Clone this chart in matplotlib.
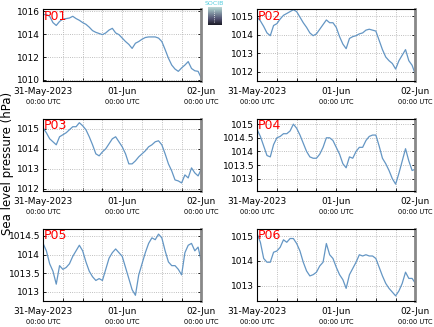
import numpy as np
import matplotlib
matplotlib.use('Agg')
import matplotlib.pyplot as plt

# hourly sea level pressure (hPa), 31-May-2023 00:00 UTC .. 02-Jun-2023 00:00 UTC
hours = np.arange(49)

p01 = [1015.7, 1015.7, 1015.55, 1015.0, 1014.75, 1015.1, 1015.3, 1015.35, 1015.4, 1015.55,
       1015.35, 1015.2, 1015.0, 1014.85, 1014.6, 1014.3, 1014.15, 1014.05, 1013.95, 1014.1,
       1014.35, 1014.5, 1014.1, 1013.95, 1013.65, 1013.35, 1013.1, 1012.75, 1013.2, 1013.35,
       1013.55, 1013.7, 1013.75, 1013.75, 1013.75, 1013.65, 1013.35, 1012.65, 1011.9, 1011.3,
       1010.95, 1010.75, 1011.05, 1011.3, 1011.6, 1011.0, 1010.8, 1010.75, 1010.15]
p02 = [1014.95, 1014.75, 1014.45, 1014.1, 1013.95, 1014.5, 1014.6, 1014.85, 1015.05, 1015.15,
       1015.25, 1015.35, 1015.25, 1014.95, 1014.65, 1014.4, 1014.1, 1013.95, 1014.05, 1014.3,
       1014.55, 1014.8, 1014.65, 1014.65, 1014.4, 1013.9, 1013.5, 1013.25, 1013.8, 1013.9,
       1013.95, 1014.05, 1014.1, 1014.25, 1014.3, 1014.25, 1014.2, 1013.7, 1013.2, 1012.8,
       1012.6, 1012.45, 1012.15, 1012.6, 1012.9, 1013.2, 1012.6, 1012.35, 1011.85]
p03 = [1015.05, 1014.8, 1014.5, 1014.35, 1014.2, 1014.6, 1014.7, 1014.8, 1014.95, 1015.1,
       1015.1, 1015.3, 1015.15, 1014.95, 1014.6, 1014.2, 1013.75, 1013.65, 1013.85, 1014.0,
       1014.25, 1014.5, 1014.6, 1014.35, 1014.1, 1013.75, 1013.25, 1013.25, 1013.4, 1013.6,
       1013.75, 1013.9, 1014.1, 1014.2, 1014.35, 1014.4, 1014.2, 1013.75, 1013.25, 1012.9,
       1012.45, 1012.4, 1012.3, 1012.7, 1012.55, 1013.05, 1012.8, 1012.65, 1013.0]
p04 = [1014.8, 1014.55, 1014.2, 1013.85, 1013.8, 1014.25, 1014.5, 1014.55, 1014.65, 1014.65,
       1014.75, 1015.0, 1014.85, 1014.6, 1014.3, 1014.0, 1013.8, 1013.75, 1013.75, 1013.9,
       1014.15, 1014.5, 1014.5, 1014.4, 1014.15, 1013.9, 1013.55, 1013.4, 1013.8, 1013.75,
       1014.0, 1014.15, 1014.15, 1014.4, 1014.55, 1014.6, 1014.6, 1014.2, 1013.75, 1013.55,
       1013.3, 1013.0, 1012.8, 1013.2, 1013.65, 1014.1, 1013.65, 1013.3, 1013.35]
p05 = [1014.3, 1014.1, 1013.75, 1013.55, 1013.2, 1013.7, 1013.6, 1013.65, 1013.75, 1013.95,
       1014.1, 1014.25, 1014.1, 1013.8, 1013.55, 1013.4, 1013.3, 1013.35, 1013.3, 1013.6,
       1013.9, 1014.05, 1014.15, 1014.05, 1013.95, 1013.65, 1013.35, 1013.05, 1012.9, 1013.45,
       1013.75, 1014.05, 1014.3, 1014.45, 1014.4, 1014.55, 1014.45, 1014.1, 1013.8, 1013.7,
       1013.7, 1013.6, 1013.45, 1014.05, 1014.25, 1014.3, 1014.1, 1014.2, 1013.8]
p06 = [1015.1, 1014.75, 1014.1, 1013.95, 1013.95, 1014.35, 1014.4, 1014.55, 1014.85, 1014.75,
       1014.9, 1014.9, 1014.7, 1014.4, 1013.95, 1013.6, 1013.4, 1013.45, 1013.55, 1013.8,
       1013.95, 1014.7, 1014.25, 1014.1, 1013.75, 1013.45, 1013.25, 1012.9, 1013.45, 1013.7,
       1013.95, 1014.25, 1014.2, 1014.25, 1014.2, 1014.2, 1014.1, 1013.75, 1013.4, 1013.1,
       1012.9, 1012.75, 1012.6, 1012.8, 1013.1, 1013.55, 1013.3, 1013.3, 1013.1]

names = ['P01', 'P02', 'P03', 'P04', 'P05', 'P06']
series = [p01, p02, p03, p04, p05, p06]
ylims = [(1009.9, 1016.2), (1011.5, 1015.4), (1011.9, 1015.5),
         (1012.55, 1015.2), (1012.75, 1014.7), (1012.4, 1015.3)]
yticks = [[1010, 1012, 1014, 1016], [1012, 1013, 1014, 1015], [1012, 1013, 1014, 1015],
          [1013, 1013.5, 1014, 1014.5, 1015], [1013, 1013.5, 1014, 1014.5], [1013, 1014, 1015]]
xlabels = ['31-May-2023', '01-Jun', '02-Jun']

fig = plt.figure(figsize=(4.35, 3.27), dpi=100)
pos = [(0.099, 0.752), (0.591, 0.752), (0.099, 0.416), (0.591, 0.416), (0.099, 0.080), (0.591, 0.080)]
W, H = 0.364, 0.221

for i in range(6):
    ax = fig.add_axes([pos[i][0], pos[i][1], W, H])
    ax.plot(hours, series[i], color='#6496c4', lw=0.9)
    ax.set_xlim(0, 48)
    ax.set_ylim(*ylims[i])
    ax.set_yticks(yticks[i])
    ax.set_yticklabels(['%g' % v for v in yticks[i]], fontsize=6.5)
    ax.set_xticks(np.arange(0, 49, 6), minor=False)
    ax.set_xticklabels([''] * 9)
    ax.grid(True, color='#aaaaaa', ls=':', lw=0.6)
    ax.tick_params(direction='in', length=2, width=0.6, pad=2, right=True)
    ax.spines['right'].set_color('#888888')
    ax.spines['right'].set_linewidth(2)
    for s in ['left', 'top', 'bottom']:
        ax.spines[s].set_linewidth(0.8)
    for k, xv in enumerate([0, 24, 48]):
        ax.text(xv, -0.08, xlabels[k], transform=ax.get_xaxis_transform(),
                ha='center', va='top', fontsize=6.5)
        ax.text(xv, -0.25, '00:00 UTC', transform=ax.get_xaxis_transform(),
                ha='center', va='top', fontsize=4.8)
    ax.text(0.005, 0.99, names[i], transform=ax.transAxes, color='red',
            fontsize=9, ha='left', va='top')

fig.text(0.018, 0.5, 'Sea level pressure (hPa)', rotation=90, ha='center',
         va='center', fontsize=8.5)

# small logo
lax = fig.add_axes([0.478, 0.924, 0.030, 0.055])
grad = np.linspace(0, 1, 20).reshape(-1, 1)
lax.imshow(grad, cmap='bone', aspect='auto', extent=(0, 1, 0, 1), vmin=-0.2, vmax=1.3,
           origin='lower')
lax.plot([0.5, 0.5], [0.15, 0.85], color='white', ls=':', lw=0.6)
lax.set_xlim(0, 1)
lax.set_ylim(0, 1)
lax.axis('off')
fig.text(0.493, 0.996, 'SOCIB', color='#55ccdd', fontsize=4.5, ha='center', va='top')

fig.savefig('out.png', dpi=100)
